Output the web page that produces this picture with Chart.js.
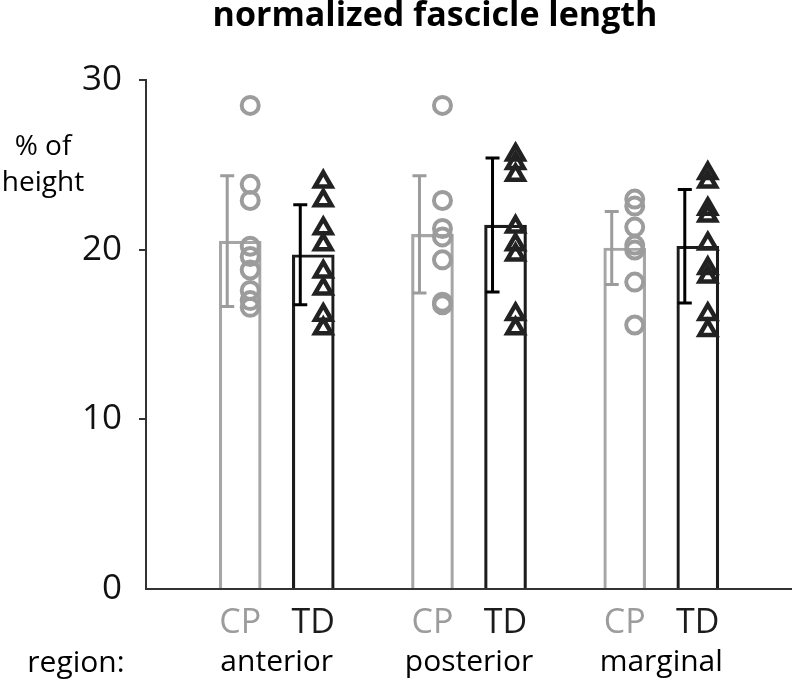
<!DOCTYPE html>
<html>
<head>
<meta charset="utf-8">
<script src="https://cdn.jsdelivr.net/npm/chart.js@4/dist/chart.umd.min.js"></script>
<style>
  html, body { margin: 0; padding: 0; background: #fff; }
  #wrap { width: 792px; height: 679px; }
</style>
</head>
<body>
<div id="wrap"><canvas id="chart" width="792" height="679"></canvas></div>
<script>
// data
const regions = ['anterior', 'posterior', 'marginal'];
const groups = ['CP', 'TD'];
const yTicks = [0, 10, 20, 30];
const cpMean = [20.5, 20.9, 20.1];
const tdMean = [19.7, 21.45, 20.2];
const cpSD = [3.85, 3.45, 2.15];
const tdSD = [2.95, 3.95, 3.35];
const cpPoints = [
    [28.5, 23.85, 22.9, 20.2, 19.6, 18.8, 17.6, 17.0, 16.6],
    [28.5, 22.9, 21.25, 20.75, 19.4, 16.9, 16.75],
    [22.98, 22.57, 21.33, 20.27, 19.98, 18.09, 15.56]
];
const tdPoints = [
    [24.0, 22.9, 21.25, 20.3, 18.7, 17.7, 16.15, 15.35],
    [25.6, 25.1, 24.4, 21.35, 20.3, 19.7, 16.2, 15.35],
    [24.5, 24.0, 22.4, 22.0, 20.35, 18.9, 18.4, 16.2, 15.25]
];

const FONT = '"Open Sans", "DejaVu Sans", sans-serif';
const GRAY = '#9c9c9c';
const DARK = '#1c1c1c';
const GROUP_SHIFT = 0.19;   // CP left / TD right of region centre
const POINT_SHIFT = 0.052;  // dots sit right of bar centre
const ERR_SHIFT = 13;       // error bar sits left of bar centre (px)

const barX = (i, g) => i + 1 + (g === 0 ? -GROUP_SHIFT : GROUP_SHIFT);

const cpBars = cpMean.map((v, i) => ({ x: barX(i, 0), y: v }));
const tdBars = tdMean.map((v, i) => ({ x: barX(i, 1), y: v }));
const cpDots = cpPoints.flatMap((arr, i) => arr.map(v => ({ x: barX(i, 0) + POINT_SHIFT, y: v })));
const tdDots = tdPoints.flatMap((arr, i) => arr.map(v => ({ x: barX(i, 1) + POINT_SHIFT, y: v })));

const groupTicks = [];
const groupLabels = [];
regions.forEach((r, i) => {
    groups.forEach((g, k) => {
        groupTicks.push(barX(i, k));
        groupLabels.push(g);
    });
});

// error bars (mean +/- SD), drawn through the scales
const errorBars = {
    id: 'errorBars',
    afterDatasetsDraw(chart) {
        const { ctx, scales: { x, y } } = chart;
        const sets = [[cpMean, cpSD, GRAY, 0], [tdMean, tdSD, '#000', 1]];
        ctx.save();
        sets.forEach(([mean, sd, color, g]) => {
            mean.forEach((m, i) => {
                const px = x.getPixelForValue(barX(i, g)) - ERR_SHIFT;
                const top = y.getPixelForValue(m + sd[i]);
                const bot = y.getPixelForValue(m - sd[i]);
                ctx.strokeStyle = color;
                ctx.lineWidth = 3;
                ctx.beginPath();
                ctx.moveTo(px, top);
                ctx.lineTo(px, bot);
                ctx.moveTo(px - 7, top);
                ctx.lineTo(px + 7, top);
                ctx.moveTo(px - 7, bot);
                ctx.lineTo(px + 7, bot);
                ctx.stroke();
            });
        });
        ctx.restore();
    }
};

// title and free-standing labels
const extraText = {
    id: 'extraText',
    afterDraw(chart) {
        const ctx = chart.ctx;
        ctx.save();
        ctx.fillStyle = '#000';
        ctx.textAlign = 'center';
        ctx.textBaseline = 'alphabetic';
        ctx.font = 'bold 34px ' + FONT;
        ctx.fillText('normalized fascicle length', 435, 26);
        ctx.font = '28px ' + FONT;
        ctx.fillText('% of', 43, 155);
        ctx.fillText('height', 43, 191);
        ctx.font = '30px ' + FONT;
        ctx.fillText('region:', 76, 672);
        ctx.restore();
    }
};

// keep the bottom axes flush with the canvas edges
const fitX = h => s => { s.height = h; s.paddingLeft = 0; s.paddingRight = 0; };

new Chart(document.getElementById('chart'), {
    type: 'bar',
    data: {
        datasets: [
            {
                type: 'scatter', data: cpDots, pointStyle: 'circle', pointRadius: 8.5,
                pointBorderWidth: 4, pointBorderColor: GRAY, pointBackgroundColor: 'rgba(0,0,0,0)', order: 0
            },
            {
                type: 'scatter', data: tdDots, pointStyle: 'triangle', pointRadius: 9.5,
                pointBorderWidth: 4.5, pointBorderColor: '#222', pointBackgroundColor: 'rgba(0,0,0,0)', order: 0
            },
            {
                data: cpBars, backgroundColor: 'rgba(0,0,0,0)', borderColor: '#a6a6a6', grouped: false,
                borderWidth: 2.5, barThickness: 42, borderSkipped: 'bottom', order: 1
            },
            {
                data: tdBars, backgroundColor: 'rgba(0,0,0,0)', borderColor: DARK, grouped: false,
                borderWidth: 2.5, barThickness: 42, borderSkipped: 'bottom', order: 1
            }
        ]
    },
    options: {
        responsive: false,
        animation: false,
        devicePixelRatio: 1,
        layout: { autoPadding: false, padding: { top: 80, left: 0, right: 0, bottom: 0 } },
        plugins: { legend: { display: false }, tooltip: { enabled: false }, title: { display: false } },
        scales: {
            x: {
                type: 'linear', min: 0.32, max: 3.68, offset: false, position: 'bottom',
                grid: { display: false, offset: false },
                border: { display: true, color: '#333', width: 2 },
                afterBuildTicks: s => { s.ticks = groupTicks.map(v => ({ value: v })); },
                afterFit: fitX(50),
                ticks: {
                    autoSkip: false, maxRotation: 0, padding: 6,
                    callback: (v, i) => groupLabels[i],
                    color: c => (c.index % 2 ? DARK : GRAY),
                    font: { family: FONT, size: 34 }
                }
            },
            x2: {
                type: 'linear', min: 0.32, max: 3.68, offset: false, position: 'bottom',
                grid: { display: false }, border: { display: false },
                afterBuildTicks: s => { s.ticks = regions.map((r, i) => ({ value: i + 1 })); },
                afterFit: fitX(40),
                ticks: {
                    autoSkip: false, maxRotation: 0, padding: -3,
                    callback: (v, i) => regions[i],
                    color: '#000',
                    font: { family: FONT, size: 30 }
                }
            },
            y: {
                min: 0, max: 30,
                afterBuildTicks: s => { s.ticks = yTicks.map(v => ({ value: v })); },
                afterFit: s => { s.width = 146; },
                grid: {
                    drawOnChartArea: false, drawTicks: true, tickLength: 7, lineWidth: 2,
                    color: c => (c.tick && c.tick.value === 0 ? 'rgba(0,0,0,0)' : '#333')
                },
                border: { display: true, color: '#333', width: 2 },
                ticks: { padding: 17, color: '#111', font: { family: FONT, size: 35 } }
            }
        }
    },
    plugins: [errorBars, extraText]
});
</script>
</body>
</html>
